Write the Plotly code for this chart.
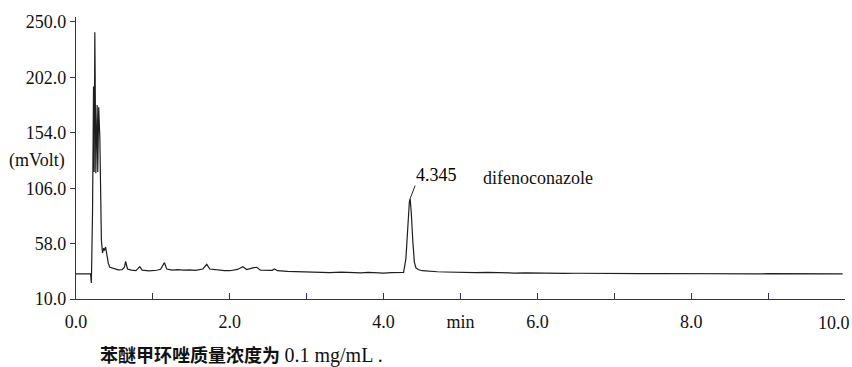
import plotly.graph_objects as go

# retention time (min) and detector signal (mVolt)
time_min = [0.00, 0.10, 0.19, 0.20, 0.215, 0.228, 0.236, 0.245, 0.252, 0.258, 0.265, 0.275,
            0.283, 0.295, 0.31, 0.32, 0.33, 0.345, 0.36, 0.37, 0.385, 0.40, 0.42, 0.44,
            0.50, 0.55, 0.60, 0.63, 0.645, 0.67, 0.72, 0.78, 0.83, 0.86, 0.95, 1.05,
            1.10, 1.15, 1.18, 1.25, 1.32, 1.40, 1.48, 1.55, 1.65, 1.70, 1.74, 1.85,
            1.93, 2.00, 2.10, 2.17, 2.22, 2.30, 2.35, 2.40, 2.48, 2.55, 2.58, 2.62,
            2.75, 2.90, 3.00, 3.15, 3.30, 3.45, 3.55, 3.70, 3.80, 3.90, 4.00, 4.10,
            4.20, 4.26, 4.29, 4.315, 4.335, 4.345, 4.36, 4.38, 4.40, 4.42, 4.45, 4.50,
            4.60, 4.70, 4.80, 4.90, 5.00, 5.20, 5.35, 5.50, 5.70, 5.85, 6.00, 6.20,
            6.35, 6.50, 6.70, 6.85, 7.00, 7.20, 7.35, 7.50, 7.70, 7.85, 8.00, 8.20,
            8.35, 8.50, 8.70, 8.85, 9.00, 9.20, 9.35, 9.50, 9.70, 9.85, 9.97]
signal_mv = [31.7, 31.7, 31.7, 23.9, 85.0, 194.0, 120.0, 241.0, 145.0, 119.0, 145.0, 178.0,
             120.0, 176.0, 150.0, 85.0, 61.0, 50.0, 54.0, 52.0, 55.0, 49.0, 41.0, 37.5,
             36.0, 35.3, 35.5, 37.5, 42.5, 36.0, 35.0, 34.6, 38.0, 35.0, 34.4, 34.9,
             35.8, 41.5, 36.0, 35.0, 35.4, 35.0, 35.3, 34.8, 36.0, 40.0, 36.0, 35.0,
             34.6, 34.5, 35.6, 38.0, 35.5, 37.0, 37.5, 35.0, 35.2, 34.8, 36.0, 34.5,
             34.0, 33.6, 33.9, 33.2, 32.8, 33.3, 33.0, 32.7, 33.0, 32.6, 32.5, 32.8,
             32.6, 33.0, 45.0, 75.0, 94.0, 97.0, 85.0, 60.0, 42.0, 37.0, 35.5, 34.5,
             33.8, 33.6, 33.4, 33.2, 33.0, 32.8, 33.0, 32.7, 32.5, 32.7, 32.4, 32.5,
             32.2, 32.3, 32.1, 32.4, 32.1, 32.2, 31.9, 32.1, 32.0, 31.8, 32.0, 31.9,
             32.1, 31.8, 31.9, 31.7, 31.9, 31.8, 31.6, 31.8, 31.7, 31.8, 31.7]

x_tick_vals = [0, 1, 2, 3, 4, 5, 6, 7, 8, 9, 10]
x_tick_text = ["0.0", "", "2.0", "", "4.0", "min", "6.0", "", "8.0", "", ""]
y_tick_vals = [10, 58, 106, 154, 202, 250]
y_tick_text = ["10.0", "58.0", "106.0", "154.0", "202.0", "250.0"]

peak_time = 4.345
peak_height = 97.0
peak_name = "difenoconazole"
caption_cn = "苯醚甲环唑质量浓度为"
caption_en = "0.1 mg/mL ."

serif = "Liberation Serif, Times New Roman, serif"
axis_color = "#34344f"

fig = go.Figure()
fig.add_trace(go.Scatter(x=time_min, y=signal_mv, mode="lines",
                         line=dict(color="#1e1e1e", width=1.2), hoverinfo="skip"))

fig.update_layout(
    width=852, height=367,
    margin=dict(l=76, r=7, t=17, b=68, autoexpand=False),
    paper_bgcolor="white", plot_bgcolor="white",
    showlegend=False,
    font=dict(family=serif, size=18, color="#111"),
)
fig.update_xaxes(range=[0, 10], tickvals=x_tick_vals, ticktext=x_tick_text,
                 ticks="inside", ticklen=6, tickcolor=axis_color, tickwidth=1,
                 showline=True, linecolor=axis_color, linewidth=1.3,
                 showgrid=False, zeroline=False, ticklabelstandoff=6, automargin=False,
                 tickfont=dict(family=serif, size=18, color="#111"))
fig.update_yaxes(range=[10, 254.3], tickvals=y_tick_vals, ticktext=y_tick_text,
                 ticks="outside", ticklen=5, tickcolor=axis_color, tickwidth=1,
                 showline=True, linecolor=axis_color, linewidth=1.3,
                 showgrid=False, zeroline=False, automargin=False,
                 tickfont=dict(family=serif, size=18, color="#111"))

# y-axis unit label between tick labels
fig.add_annotation(xref="paper", x=0, xanchor="right", xshift=-9, y=130, yref="y",
                   text="(mVolt)", showarrow=False,
                   font=dict(family=serif, size=18, color="#111"))
# last x tick label, kept inside the page
fig.add_annotation(xref="x", x=10, xanchor="right", xshift=7, yref="paper", y=0,
                   yanchor="top", yshift=-12, text="10.0", showarrow=False,
                   font=dict(family=serif, size=18, color="#111"))
# peak label
fig.add_annotation(x=peak_time, y=peak_height, text=f"{peak_time:.3f}",
                   showarrow=True, arrowhead=0, arrowwidth=1, arrowcolor="#222",
                   ax=5, ay=-13, xanchor="left", yanchor="bottom", borderpad=0,
                   font=dict(family=serif, size=18, color="#000"))
fig.add_annotation(x=5.27, y=114.8, xanchor="left", text=peak_name, showarrow=False,
                   font=dict(family=serif, size=18, color="#111"))
# caption
caption = ("<b><span style='font-family:Noto Sans CJK SC'>" + caption_cn + "</span></b> "
           "<span style='font-size:20px'>" + caption_en + "</span>")
fig.add_annotation(xref="paper", yref="paper", x=(98 - 76) / 769, y=0, yshift=-55,
                   xanchor="left", yanchor="middle", text=caption, showarrow=False,
                   font=dict(family="Liberation Serif, Noto Sans CJK SC", size=18, color="#111"))

fig.write_html("out.html", config={"displayModeBar": False},
               post_script="document.body.style.margin='0';document.body.style.overflow='hidden';")
